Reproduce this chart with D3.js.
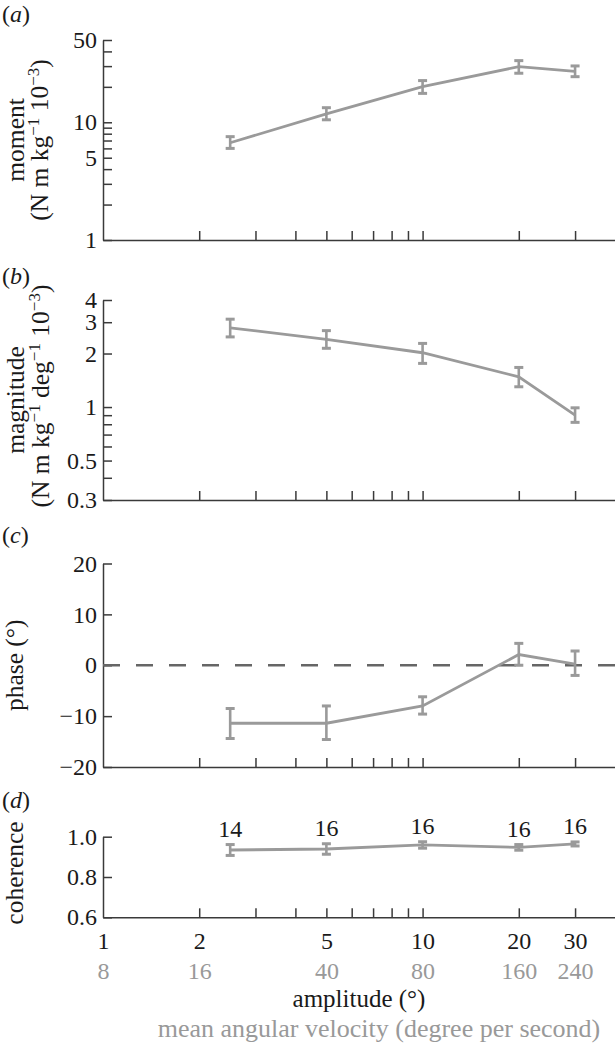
<!DOCTYPE html>
<html>
<head>
<meta charset="utf-8">
<script src="https://cdn.jsdelivr.net/npm/d3@7"></script>
<style>
  body { margin: 0; background: #fff; }
  svg text { font-family: "Liberation Serif", "Times New Roman", serif; }
</style>
</head>
<body>
<div id="chart"></div>
<script>
// values (mean, lower and upper end of error bar)
const amplitude = [2.5, 5, 10, 20, 30];
const momentMean = [6.7, 11.8, 20.1, 29.7, 27.1];
const momentLow = [6.0, 10.5, 17.6, 26.1, 24.4];
const momentHigh = [7.55, 13.3, 22.6, 33.4, 30.1];
const magnitudeMean = [2.79, 2.40, 2.02, 1.48, 0.90];
const magnitudeLow = [2.48, 2.14, 1.76, 1.30, 0.82];
const magnitudeHigh = [3.12, 2.69, 2.28, 1.67, 0.99];
const phaseMean = [-11.4, -11.4, -8.0, 2.1, 0.2];
const phaseLow = [-14.4, -14.6, -9.6, 0.0, -2.0];
const phaseHigh = [-8.5, -8.0, -6.2, 4.3, 2.8];
const coherenceMean = [0.934, 0.939, 0.959, 0.947, 0.964];
const coherenceLow = [0.907, 0.913, 0.943, 0.933, 0.954];
const coherenceHigh = [0.961, 0.965, 0.975, 0.961, 0.974];
const sampleSize = [14, 16, 16, 16, 16];

// tick values
const xTicks = [2, 3, 4, 5, 6, 7, 8, 9, 10, 20, 30];
const xTickLabels = [1, 2, 5, 10, 20, 30];
const velocityLabels = [8, 16, 40, 80, 160, 240];
const momentTicks = [1, 2, 3, 4, 5, 6, 7, 8, 9, 10, 20, 30, 40, 50];
const momentLabels = [1, 5, 10, 50];
const magnitudeTicks = [0.3, 0.4, 0.5, 0.6, 0.7, 0.8, 0.9, 1, 2, 3, 4];
const magnitudeLabels = [0.3, 0.5, 1, 2, 3, 4];
const phaseTicks = [-20, -10, 0, 10, 20];
const coherenceTicks = [0.6, 0.8, 1.0];

const width = 615, height = 1045;
const lineColor = '#9a9a9a';
const axisColor = '#3a3a3a';
const textColor = '#1a1a1a';
const fontSize = 24;
const titleSize = 25.5;

const svg = d3.select('#chart').append('svg')
    .attr('width', width)
    .attr('height', height);

const x = d3.scaleLog().domain([1, 40]).range([103, 615]);
const x0 = x.range()[0];

function drawPanel(p) {
    const y = p.y;
    const g = svg.append('g');
    const yBottom = y.range()[0];

    // y axis, ticks point inward
    const yAxis = d3.axisLeft(y)
        .tickValues(p.ticks)
        .tickSize(-9)
        .tickSizeOuter(0)
        .tickPadding(6)
        .tickFormat(d => p.labels.includes(d) ? p.fmt(d) : '');
    const ya = g.append('g')
        .attr('transform', `translate(${x0},0)`)
        .call(yAxis);

    // x axis
    const xAxis = d3.axisBottom(x)
        .tickValues(xTicks)
        .tickSize(-9)
        .tickSizeOuter(0)
        .tickFormat('');
    const xa = g.append('g')
        .attr('transform', `translate(0,${yBottom})`)
        .call(xAxis);

    [ya, xa].forEach(a => {
        a.attr('font-family', null).attr('font-size', fontSize).style('color', textColor);
        a.selectAll('path, line').attr('stroke', axisColor).attr('stroke-width', 1.5);
    });

    if (p.zero !== undefined) {
        g.append('line')
            .attr('x1', x0).attr('x2', x.range()[1])
            .attr('y1', y(p.zero)).attr('y2', y(p.zero))
            .attr('stroke', '#666')
            .attr('stroke-width', 2.6)
            .attr('stroke-dasharray', '17,16');
    }

    const pts = amplitude.map((a, i) => ({ a: a, m: p.mean[i], lo: p.low[i], hi: p.high[i] }));

    const line = d3.line().x(d => x(d.a)).y(d => y(d.m));
    g.append('path')
        .datum(pts)
        .attr('d', line)
        .attr('fill', 'none')
        .attr('stroke', lineColor)
        .attr('stroke-width', 2.8);

    // error bars
    const bars = g.selectAll('.err').data(pts).enter().append('g').attr('class', 'err');
    bars.append('line')
        .attr('x1', d => x(d.a)).attr('x2', d => x(d.a))
        .attr('y1', d => y(d.lo)).attr('y2', d => y(d.hi))
        .attr('stroke', lineColor).attr('stroke-width', 2.6);
    bars.append('line')
        .attr('x1', d => x(d.a) - 4.5).attr('x2', d => x(d.a) + 4.5)
        .attr('y1', d => y(d.lo)).attr('y2', d => y(d.lo))
        .attr('stroke', lineColor).attr('stroke-width', 3);
    bars.append('line')
        .attr('x1', d => x(d.a) - 4.5).attr('x2', d => x(d.a) + 4.5)
        .attr('y1', d => y(d.hi)).attr('y2', d => y(d.hi))
        .attr('stroke', lineColor).attr('stroke-width', 3);

    // axis title (rotated)
    const yc = (y.range()[0] + y.range()[1]) / 2;
    p.title.forEach(t => {
        const tx = svg.append('text')
            .attr('transform', `translate(${t.x},${yc + (t.dy || 0)}) rotate(-90)`)
            .attr('text-anchor', 'middle')
            .attr('font-size', titleSize)
            .attr('fill', textColor);
        t.parts.forEach(part => {
            if (part.sup) {
                tx.append('tspan').attr('dy', -9).attr('font-size', 17).text(part.text);
                tx.append('tspan').attr('dy', 9).text(part.after || '');
            } else {
                tx.append('tspan').text(part.text);
            }
        });
    });

    // panel letter
    const lab = svg.append('text')
        .attr('x', 2).attr('y', p.letterY)
        .attr('font-size', 24)
        .attr('fill', textColor);
    lab.append('tspan').text('(');
    lab.append('tspan').attr('font-style', 'italic').text(p.letter);
    lab.append('tspan').text(')');

    return g;
}

// (a) moment
drawPanel({
    y: d3.scaleLog().domain([1, 50]).range([240, 40]),
    ticks: momentTicks, labels: momentLabels, fmt: d => String(d),
    mean: momentMean, low: momentLow, high: momentHigh,
    letter: 'a', letterY: 22,
    title: [
        { x: 24, parts: [{ text: 'moment' }] },
        { x: 48, parts: [{ text: '(N m kg' }, { sup: true, text: '\u22121', after: ' 10' }, { sup: true, text: '\u22123', after: ')' }] }
    ]
});

// (b) magnitude
drawPanel({
    y: d3.scaleLog().domain([0.3, 4]).range([500, 300]),
    ticks: magnitudeTicks, labels: magnitudeLabels, fmt: d => String(d),
    mean: magnitudeMean, low: magnitudeLow, high: magnitudeHigh,
    letter: 'b', letterY: 284,
    title: [
        { x: 24, parts: [{ text: 'magnitude' }] },
        { x: 49, dy: -4, parts: [{ text: '(N m kg' }, { sup: true, text: '\u22121', after: ' deg' }, { sup: true, text: '\u22121', after: ' 10' }, { sup: true, text: '\u22123', after: ')' }] }
    ]
});

// (c) phase
drawPanel({
    y: d3.scaleLinear().domain([-20, 20]).range([767, 563.5]),
    ticks: phaseTicks, labels: phaseTicks, fmt: d3.format('d'),
    mean: phaseMean, low: phaseLow, high: phaseHigh,
    zero: 0,
    letter: 'c', letterY: 543,
    title: [{ x: 23, parts: [{ text: 'phase (\u00b0)' }] }]
});

// (d) coherence
const yD = d3.scaleLinear().domain([0.6, 1.0]).range([917.3, 836.7]);
const gD = drawPanel({
    y: yD,
    ticks: coherenceTicks, labels: coherenceTicks, fmt: d3.format('.1f'),
    mean: coherenceMean, low: coherenceLow, high: coherenceHigh,
    letter: 'd', letterY: 808,
    title: [{ x: 23, dy: -4, parts: [{ text: 'coherence' }] }]
});

// n above each point
gD.selectAll('.n').data(sampleSize).enter().append('text')
    .attr('class', 'n')
    .attr('x', (d, i) => x(amplitude[i]))
    .attr('y', (d, i) => yD(coherenceHigh[i]) - 7.5)
    .attr('text-anchor', 'middle')
    .attr('font-size', fontSize)
    .attr('fill', textColor)
    .text(d => d);

// bottom tick labels: amplitude, then mean angular velocity in grey
const ampAxis = d3.axisBottom(x).tickValues(xTickLabels).tickSize(0).tickPadding(15)
    .tickFormat(d => String(d));
const velAxis = d3.axisBottom(x).tickValues(xTickLabels).tickSize(0).tickPadding(45)
    .tickFormat((d, i) => velocityLabels[i]);

[[ampAxis, textColor], [velAxis, '#999']].forEach(([ax, col]) => {
    const a = svg.append('g')
        .attr('transform', `translate(0,${yD.range()[0]})`)
        .call(ax);
    a.attr('font-family', null).attr('font-size', fontSize).style('color', col);
    a.select('.domain').remove();
});

svg.append('text')
    .attr('x', (x.range()[0] + x.range()[1]) / 2)
    .attr('y', 1007)
    .attr('text-anchor', 'middle')
    .attr('font-size', 25)
    .attr('fill', textColor)
    .text('amplitude (\u00b0)');

svg.append('text')
    .attr('x', 379)
    .attr('y', 1036.5)
    .attr('text-anchor', 'middle')
    .attr('font-size', 26)
    .attr('fill', '#999')
    .text('mean angular velocity (degree per second)');
</script>
</body>
</html>
